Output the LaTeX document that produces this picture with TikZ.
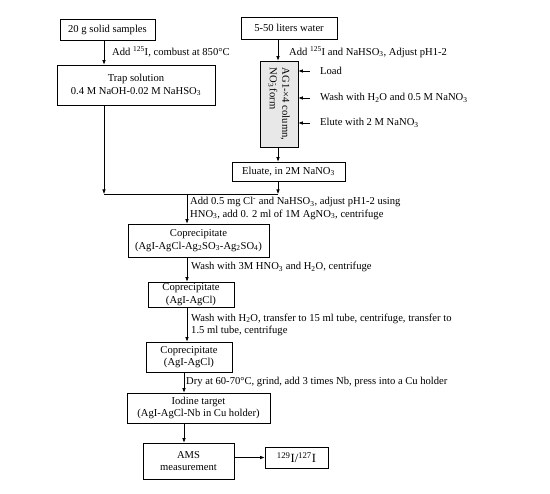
\documentclass[tikz,border=0pt]{standalone}
\usepackage{fontspec}
\setmainfont{Liberation Serif}
\usetikzlibrary{arrows.meta}
\newcommand{\sbsp}[2]{\rlap{\textsubscript{#1}}\textsuperscript{#2}}
\begin{document}
\begin{tikzpicture}[x=1pt,y=-1pt,
  every node/.style={font=\fontsize{10.6}{12.5}\selectfont, inner sep=0pt},
  box/.style={draw, line width=0.6pt, fill=white, align=center},
  lab/.style={anchor=west, align=left},
  arr/.style={line width=0.6pt, -{Latex[length=4.5pt,width=3.5pt]}},
  ln/.style={line width=0.6pt}]
\useasboundingbox[fill=white] (0,0) rectangle (550,494);
% boxes
\node[box, minimum width=95pt, minimum height=21pt] (s1) at (107.5,29.5) {20 g solid samples};
\node[box, minimum width=96pt, minimum height=22pt] (water) at (289,28) {5-50 liters water};
\node[box, minimum width=158pt, minimum height=40pt] (trap) at (136,85) {Trap solution\\0.4 M NaOH-0.02 M NaHSO\textsubscript{3}};
\node[box, fill=gray!18, minimum width=38pt, minimum height=86pt] (col) at (279,104) {};
\node[rotate=-90, align=left] (coltext) at (col.center) {AG1-×4 column,\\NO\sbsp{3}{-} form};
\node[box, minimum width=113pt, minimum height=19pt] (elu) at (288.5,171.5) {Eluate, in 2M NaNO\textsubscript{3}};
\node[box, minimum width=141pt, minimum height=33pt] (cop1) at (198.5,240.5) {Coprecipitate\\(AgI-AgCl-Ag\textsubscript{2}SO\textsubscript{3}-Ag\textsubscript{2}SO\textsubscript{4})};
\node[box, minimum width=86pt, minimum height=25pt] (cop2) at (191,294.5) {Coprecipitate\\(AgI-AgCl)};
\node[box, minimum width=86pt, minimum height=30pt] (cop3) at (189,357) {Coprecipitate\\(AgI-AgCl)};
\node[box, minimum width=143pt, minimum height=30pt] (tgt) at (198.5,408) {Iodine target\\(AgI-AgCl-Nb in Cu holder)};
\node[box, minimum width=91pt, minimum height=36pt] (ams) at (188.5,461) {AMS\\measurement};
\node[box, minimum width=63pt, minimum height=21pt, font=\fontsize{12.5}{14}\selectfont] (res) at (296.5,457.5) {\textsuperscript{129}I/\textsuperscript{127}I};
% coordinates
\coordinate (xL) at (104,0);
\coordinate (xR) at (278,0);
\coordinate (xC) at (187,0);
\coordinate (xD) at (184,0);
\coordinate (mL) at (104,194);
\coordinate (mR) at (278,194);
\coordinate (mC) at (187,194);
\coordinate (iL) at (310,71);
\coordinate (iW) at (310,98);
\coordinate (iE) at (310,123);
% connectors
\draw[arr] (s1.south -| xL) -- (trap.north -| xL);
\draw[arr] (trap.south -| xL) -- (mL);
\draw[arr] (water.south -| xR) -- (col.north -| xR);
\draw[arr] (col.south -| xR) -- (elu.north -| xR);
\draw[arr] (elu.south -| xR) -- (mR);
\draw[ln] (mL) -- (mR);
\draw[arr] (mC) -- (cop1.north -| xC);
\draw[arr] (cop1.south -| xC) -- (cop2.north -| xC);
\draw[arr] (cop2.south -| xC) -- (cop3.north -| xC);
\draw[arr] (cop3.south -| xD) -- (tgt.north -| xD);
\draw[arr] (tgt.south -| xD) -- (ams.north -| xD);
\draw[arr] (ams.east |- res) -- (res.west);
\draw[arr] (iL) -- (col.east |- iL);
\draw[arr] (iW) -- (col.east |- iW);
\draw[arr] (iE) -- (col.east |- iE);
% labels
\node[lab] (l1) at (112,52) {Add \textsuperscript{125}I, combust at 850°C};
\node[lab] (l2) at (289,52) {Add \textsuperscript{125}I and NaHSO\textsubscript{3}, Adjust pH1-2};
\node[lab] (l3) at (320,71) {Load};
\node[lab] (l4) at (320,98) {Wash with H\textsubscript{2}O and 0.5 M NaNO\textsubscript{3}};
\node[lab] (l5) at (320,123) {Elute with 2 M NaNO\textsubscript{3}};
\node[lab] (l6) at (190,208.5) {Add 0.5 mg Cl\textsuperscript{-} and NaHSO\textsubscript{3}, adjust pH1-2 using\\HNO\textsubscript{3}, add 0. 2 ml of 1M AgNO\textsubscript{3}, centrifuge};
\node[lab] (l7) at (191,267) {Wash with 3M HNO\textsubscript{3} and H\textsubscript{2}O, centrifuge};
\node[lab] (l8) at (191,325) {Wash with H\textsubscript{2}O, transfer to 15 ml tube, centrifuge, transfer to\\1.5 ml tube, centrifuge};
\node[lab] (l9) at (186,382) {Dry at 60-70°C, grind, add 3 times Nb, press into a Cu holder};
\end{tikzpicture}
\end{document}
